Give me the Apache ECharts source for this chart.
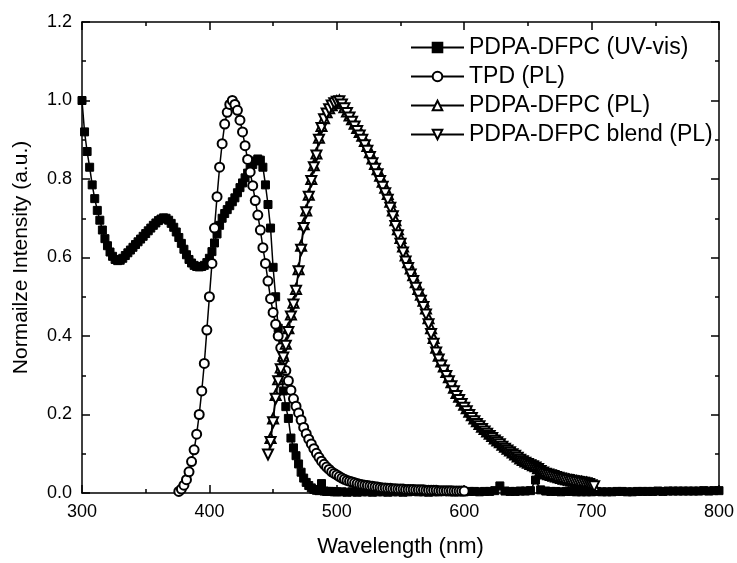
<!DOCTYPE html>
<html>
<head>
<meta charset="utf-8">
<script src="https://cdn.jsdelivr.net/npm/echarts@6/dist/echarts.min.js"></script>
<style>
  html, body { margin: 0; padding: 0; background: #fff; }
  #chart { width: 737px; height: 563px; }
</style>
</head>
<body>
<div id="chart"></div>
<script>
  // legend names
  const seriesNames = ['PDPA-DFPC (UV-vis)', 'TPD (PL)', 'PDPA-DFPC (PL)', 'PDPA-DFPC blend (PL)']

  // UV-vis, 300-500 nm every 2 nm
  const uvStartA = 300, uvStepA = 2
  const uvValuesA = [
    1.0, 0.92, 0.87, 0.83, 0.785, 0.75, 0.72, 0.695, 0.67, 0.648,
    0.63, 0.614, 0.603, 0.595, 0.592, 0.593, 0.598, 0.605, 0.612, 0.619,
    0.626, 0.633, 0.64, 0.647, 0.654, 0.661, 0.668, 0.675, 0.682, 0.688,
    0.694, 0.698, 0.701, 0.70, 0.695, 0.687, 0.677, 0.665, 0.651, 0.636,
    0.621, 0.607, 0.595, 0.586, 0.58, 0.577, 0.576, 0.577, 0.58, 0.587,
    0.598, 0.615, 0.637, 0.66, 0.682, 0.70, 0.712, 0.722, 0.732, 0.742,
    0.752, 0.765, 0.778, 0.79, 0.803, 0.815, 0.826, 0.837, 0.846, 0.851,
    0.848, 0.83, 0.785, 0.735, 0.675, 0.575, 0.50, 0.42, 0.315, 0.26,
    0.22, 0.19, 0.14, 0.115, 0.095, 0.074, 0.053, 0.038, 0.027, 0.019,
    0.013, 0.009, 0.007, 0.006, 0.024, 0.005, 0.004, 0.004, 0.004, 0.003,
    0.003
  ]
  // UV-vis, 504-800 nm every 4 nm
  const uvStartB = 504, uvStepB = 4
  const uvValuesB = [
    0.003, 0.002, 0.003, 0.002, 0.003, 0.003, 0.002, 0.003, 0.003, 0.002,
    0.003, 0.003, 0.002, 0.003, 0.004, 0.003, 0.003, 0.002, 0.003, 0.003,
    0.004, 0.003, 0.003, 0.004, 0.003, 0.004, 0.004, 0.003, 0.004, 0.004,
    0.006, 0.018, 0.005, 0.004, 0.004, 0.005, 0.005, 0.006, 0.033, 0.008,
    0.005, 0.004, 0.004, 0.003, 0.004, 0.004, 0.003, 0.003, 0.003, 0.003,
    0.004, 0.003, 0.003, 0.003, 0.004, 0.004, 0.003, 0.003, 0.004, 0.004,
    0.004, 0.004, 0.005, 0.004, 0.005, 0.005, 0.005, 0.005, 0.005, 0.005,
    0.005, 0.006, 0.005, 0.006, 0.006
  ]

  // TPD PL, 376-600 nm every 2 nm
  const tpdStart = 376, tpdStep = 2
  const tpdValues = [
    0.004, 0.01, 0.02, 0.034, 0.054, 0.08, 0.11, 0.15, 0.2, 0.26,
    0.33, 0.415, 0.5, 0.585, 0.675, 0.755, 0.83, 0.89, 0.94, 0.97,
    0.99, 1.0, 0.99, 0.975, 0.95, 0.92, 0.885, 0.85, 0.818, 0.783,
    0.745, 0.708, 0.67, 0.625, 0.585, 0.54, 0.495, 0.46, 0.43, 0.40,
    0.37, 0.34, 0.312, 0.286, 0.262, 0.24, 0.221, 0.204, 0.186, 0.167,
    0.151, 0.137, 0.125, 0.113, 0.101, 0.091, 0.081, 0.073, 0.066, 0.06,
    0.054, 0.05, 0.046, 0.042, 0.038, 0.035, 0.032, 0.03, 0.028, 0.026,
    0.024, 0.022, 0.021, 0.02, 0.019, 0.018, 0.017, 0.016, 0.015, 0.014,
    0.013, 0.013, 0.012, 0.012, 0.011, 0.011, 0.01, 0.01, 0.01, 0.009,
    0.009, 0.009, 0.009, 0.008, 0.008, 0.008, 0.008, 0.007, 0.007, 0.007,
    0.007, 0.007, 0.006, 0.006, 0.006, 0.006, 0.006, 0.006, 0.005, 0.005,
    0.005, 0.005, 0.005
  ]

  // PDPA-DFPC PL, 448-702 nm every 2 nm
  const plStart = 448, plStep = 2
  const plValues = [
    0.14, 0.19, 0.25, 0.29, 0.32, 0.35, 0.38, 0.42, 0.455, 0.485,
    0.52, 0.57, 0.63, 0.685, 0.72, 0.76, 0.80, 0.835, 0.865, 0.905,
    0.935, 0.955, 0.97, 0.98, 0.988, 0.994, 0.998, 1.0, 0.993, 0.983,
    0.972, 0.962, 0.952, 0.941, 0.93, 0.92, 0.91, 0.897, 0.884, 0.868,
    0.852, 0.838, 0.825, 0.808, 0.793, 0.778, 0.762, 0.742, 0.72, 0.695,
    0.672, 0.65, 0.628, 0.605, 0.588, 0.572, 0.555, 0.537, 0.52, 0.505,
    0.49, 0.47, 0.445, 0.42, 0.395, 0.37, 0.35, 0.335, 0.322, 0.308,
    0.295, 0.282, 0.268, 0.255, 0.245, 0.235, 0.225, 0.216, 0.207, 0.198,
    0.19, 0.183, 0.176, 0.169, 0.163, 0.157, 0.151, 0.145, 0.139, 0.134,
    0.129, 0.123, 0.118, 0.113, 0.108, 0.103, 0.098, 0.093, 0.088, 0.084,
    0.08, 0.077, 0.074, 0.071, 0.068, 0.063, 0.058, 0.054, 0.05, 0.048,
    0.046, 0.044, 0.042, 0.04, 0.038, 0.036, 0.035, 0.034, 0.032, 0.031,
    0.03, 0.029, 0.028, 0.027, 0.026, 0.024, 0.021, 0.018
  ]

  // PDPA-DFPC blend PL, 446-702 nm every 2 nm
  const blendStart = 446, blendStep = 2
  const blendValues = [
    0.098, 0.13, 0.18, 0.24, 0.285, 0.315, 0.345, 0.375, 0.41, 0.45,
    0.48, 0.515, 0.565, 0.62, 0.675, 0.715, 0.755, 0.795, 0.83, 0.86,
    0.9, 0.93, 0.952, 0.967, 0.978, 0.987, 0.993, 0.997, 0.998, 0.99,
    0.98, 0.968, 0.957, 0.946, 0.934, 0.922, 0.911, 0.9, 0.886, 0.872,
    0.856, 0.84, 0.826, 0.812, 0.795, 0.78, 0.764, 0.747, 0.727, 0.705,
    0.68, 0.657, 0.635, 0.613, 0.59, 0.573, 0.557, 0.54, 0.523, 0.506,
    0.49, 0.474, 0.455, 0.43, 0.405, 0.38, 0.358, 0.34, 0.325, 0.312,
    0.298, 0.285, 0.272, 0.259, 0.247, 0.237, 0.227, 0.217, 0.208, 0.199,
    0.191, 0.183, 0.176, 0.17, 0.163, 0.157, 0.151, 0.145, 0.14, 0.134,
    0.129, 0.124, 0.118, 0.113, 0.108, 0.104, 0.099, 0.095, 0.09, 0.085,
    0.081, 0.077, 0.074, 0.071, 0.068, 0.065, 0.061, 0.056, 0.052, 0.049,
    0.047, 0.045, 0.043, 0.041, 0.039, 0.037, 0.035, 0.034, 0.033, 0.031,
    0.03, 0.029, 0.028, 0.027, 0.026, 0.025, 0.023, 0.02, 0.017
  ]

  // axis ticks
  const xTicks = [300, 400, 500, 600, 700, 800]
  const yTicks = [0.0, 0.2, 0.4, 0.6, 0.8, 1.0, 1.2]

  function toPairs(start, step, values) {
    return values.map((v, i) => [start + i * step, v])
  }

  const FONT = 'Liberation Sans, Arial, sans-serif'
  const lineStyle = { color: '#000', width: 1.5 }

  function axisBase(showLabel) {
    return {
      axisLine: { show: true, onZero: false, lineStyle: { color: '#000', width: 1.5 } },
      axisTick: { show: true, inside: true, length: 8, lineStyle: { color: '#000', width: 1.5 } },
      minorTick: { show: true, splitNumber: 2, length: 4, lineStyle: { color: '#000', width: 1.5 } },
      splitLine: { show: false },
      minorSplitLine: { show: false },
      axisLabel: {
        show: showLabel,
        color: '#000',
        fontSize: 18,
        fontFamily: FONT,
        margin: 10
      }
    }
  }

  function makeSeries(name, data, symbol, size, rotate) {
    return {
      name: name,
      type: 'line',
      data: data,
      symbol: symbol,
      symbolSize: size,
      symbolRotate: rotate || 0,
      showAllSymbol: true,
      lineStyle: lineStyle,
      itemStyle: { color: '#000', borderColor: '#000', borderWidth: 1 },
      emphasis: { disabled: true },
      animation: false
    }
  }

  const chart = echarts.init(document.getElementById('chart'))
  chart.setOption({
    backgroundColor: '#fff',
    animation: false,
    grid: { left: 82, right: 16, top: 22, bottom: 66, containLabel: false },
    legend: {
      orient: 'vertical',
      left: 410,
      top: 36,
      padding: 0,
      itemWidth: 53,
      itemHeight: 12,
      itemGap: 6,
      textStyle: { color: '#000', fontSize: 23, fontFamily: FONT },
      data: seriesNames
    },
    xAxis: [
      Object.assign(axisBase(true), {
        type: 'value',
        min: xTicks[0],
        max: xTicks[xTicks.length - 1],
        interval: xTicks[1] - xTicks[0],
        name: 'Wavelength (nm)',
        nameLocation: 'middle',
        nameGap: 43,
        nameTextStyle: { color: '#000', fontSize: 22, fontFamily: FONT }
      }),
      Object.assign(axisBase(false), {
        type: 'value',
        position: 'top',
        min: xTicks[0],
        max: xTicks[xTicks.length - 1],
        interval: xTicks[1] - xTicks[0]
      })
    ],
    yAxis: [
      Object.assign(axisBase(true), {
        type: 'value',
        min: yTicks[0],
        max: yTicks[yTicks.length - 1],
        interval: 0.2,
        name: 'Normailze Intensity (a.u.)',
        nameLocation: 'middle',
        nameGap: 50,
        nameTextStyle: { color: '#000', fontSize: 21, fontFamily: FONT }
      }),
      Object.assign(axisBase(false), {
        type: 'value',
        position: 'right',
        min: yTicks[0],
        max: yTicks[yTicks.length - 1],
        interval: 0.2
      })
    ],
    series: [
      makeSeries(seriesNames[0], toPairs(uvStartA, uvStepA, uvValuesA).concat(toPairs(uvStartB, uvStepB, uvValuesB)), 'rect', 8),
      makeSeries(seriesNames[1], toPairs(tpdStart, tpdStep, tpdValues), 'emptyCircle', 9),
      makeSeries(seriesNames[2], toPairs(plStart, plStep, plValues), 'emptyTriangle', 10),
      makeSeries(seriesNames[3], toPairs(blendStart, blendStep, blendValues), 'emptyTriangle', 10, 180)
    ]
  })
  // y labels with one decimal
  chart.setOption({
    yAxis: [{ axisLabel: { formatter: v => v.toFixed(1) } }, {}]
  })
</script>
</body>
</html>
